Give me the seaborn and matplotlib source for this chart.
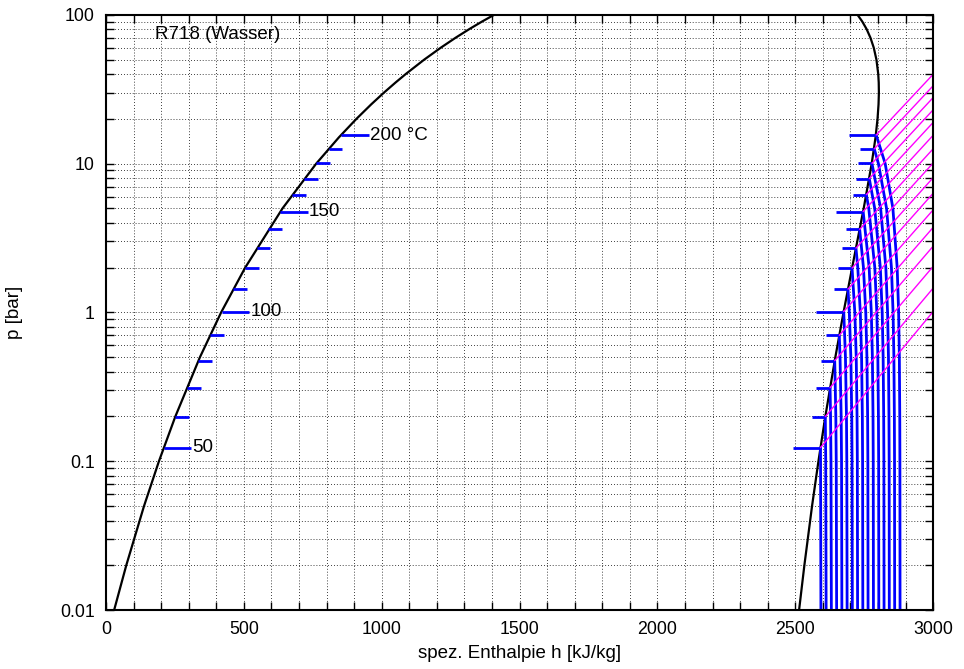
import numpy as np
import pandas as pd
import seaborn as sns
import matplotlib.pyplot as plt
from matplotlib.ticker import MultipleLocator, LogLocator, FuncFormatter

sns.set_style("ticks")
plt.rcParams['font.family'] = ['Liberation Sans', 'DejaVu Sans']
plt.rcParams.update({"text.color": "black", "axes.labelcolor": "black",
                     "xtick.color": "black", "ytick.color": "black"})

# saturation envelope of water: pressure [bar], enthalpy of liquid / vapour [kJ/kg]
env_p = [0.01, 0.02, 0.05, 0.1, 0.2, 0.5, 1, 2, 5, 10, 15, 20, 25, 30, 35, 40,
         50, 60, 70, 80, 90, 100]
env_h_liq = [29.3, 73.4, 137.7, 191.8, 251.4, 340.5, 417.4, 504.7, 640.1, 762.5,
             844.6, 908.5, 961.9, 1008.3, 1049.8, 1087.4, 1154.5, 1213.9, 1267.7,
             1317.3, 1363.9, 1408.1]
env_h_vap = [2513.7, 2532.9, 2560.7, 2583.9, 2608.9, 2645.2, 2674.9, 2706.2, 2748.1,
             2777.1, 2791.0, 2798.3, 2801.9, 2803.2, 2802.6, 2800.8, 2794.2, 2784.6,
             2772.6, 2758.7, 2742.9, 2725.5]

# marked isotherms 50 ... 200 °C
iso_t = [50, 60, 70, 80, 90, 100, 110, 120, 130, 140, 150, 160, 170, 180, 190, 200]
iso_p = [0.1235, 0.1995, 0.3120, 0.4742, 0.7018, 1.0142, 1.4338, 1.9867, 2.7028,
         3.6154, 4.7616, 6.1823, 7.9219, 10.028, 12.552, 15.549]
iso_h_liq = [209.3, 251.2, 293.0, 335.0, 377.0, 419.2, 461.4, 503.8, 546.4, 589.2,
             632.2, 675.5, 719.1, 763.1, 807.4, 852.3]
iso_h_vap = [2591.3, 2608.8, 2626.1, 2643.0, 2659.6, 2675.6, 2691.1, 2705.9, 2720.1,
             2733.5, 2746.1, 2757.7, 2768.4, 2778.0, 2786.4, 2793.5]

# superheated isotherms, enthalpy at these pressures (nan = above p_sat)
nan = np.nan
grid_p = [10, 5, 2, 1, 0.5, 0.2, 0.1, 0.01]
iso_h_super = [
    [nan, nan, nan, nan, nan, nan, 2591.6, 2592.9],
    [nan, nan, nan, nan, nan, nan, 2610.4, 2611.8],
    [nan, nan, nan, nan, nan, 2627.9, 2629.4, 2630.8],
    [nan, nan, nan, nan, nan, 2647.0, 2648.5, 2649.9],
    [nan, nan, nan, nan, 2662.3, 2666.3, 2667.7, 2668.9],
    [nan, nan, nan, 2675.8, 2681.9, 2685.6, 2686.8, 2687.9],
    [nan, nan, nan, 2695.9, 2701.5, 2704.8, 2705.9, 2706.9],
    [nan, nan, nan, 2715.9, 2721.0, 2724.0, 2725.0, 2725.9],
    [nan, nan, 2726.6, 2735.8, 2740.4, 2743.2, 2744.1, 2744.9],
    [nan, nan, 2747.2, 2755.6, 2759.8, 2762.3, 2763.2, 2763.9],
    [nan, nan, 2767.8, 2775.7, 2779.6, 2781.9, 2782.7, 2783.4],
    [nan, 2766.5, 2788.4, 2795.7, 2799.4, 2801.5, 2802.3, 2802.9],
    [nan, 2788.0, 2808.4, 2815.2, 2818.6, 2820.6, 2821.3, 2821.9],
    [nan, 2809.5, 2828.4, 2834.7, 2837.9, 2839.7, 2840.4, 2840.9],
    [2801.5, 2831.0, 2848.7, 2854.6, 2857.6, 2859.3, 2859.9, 2860.4],
    [2826.0, 2854.0, 2869.5, 2874.8, 2877.4, 2878.9, 2879.4, 2879.9],
]

# isentropes from saturated vapour up to h = 3000 kJ/kg
isen_h_end = 3000
isen_p_end = [1.014, 1.457, 2.038, 2.785, 3.725, 4.886, 6.317, 8.039, 10.09, 12.57,
              15.49, 18.90, 22.97, 27.76, 33.32, 39.79]

# long tables for seaborn
rows = []
for i, t in enumerate(iso_t):
    rows.append((t, iso_h_vap[i], iso_p[i]))
    for p, h in zip(grid_p, iso_h_super[i]):
        if not np.isnan(h):
            rows.append((t, h, p))
isotherms = pd.DataFrame(rows, columns=["T", "h", "p"])

rows = []
for i, t in enumerate(iso_t):
    rows.append((t, iso_h_vap[i], iso_p[i]))
    rows.append((t, isen_h_end, isen_p_end[i]))
isentropes = pd.DataFrame(rows, columns=["T", "h", "p"])

fig, ax = plt.subplots(figsize=(9.64, 6.69), dpi=100)
fig.subplots_adjust(left=0.110, right=0.968, bottom=0.088, top=0.978)

# saturation curve
sns.lineplot(x=env_h_liq, y=env_p, sort=False, estimator=None,
             color="black", lw=1.6, ax=ax)
sns.lineplot(x=env_h_vap, y=env_p, sort=False, estimator=None,
             color="black", lw=1.6, ax=ax)

# isotherms in superheated region
sns.lineplot(data=isotherms, x="h", y="p", units="T", estimator=None, sort=False,
             color="blue", lw=2, ax=ax)

# short isotherm marks on both sides
tick_len = [100 if t % 50 == 0 else 50 for t in iso_t]
ax.hlines(iso_p, iso_h_liq, np.array(iso_h_liq) + tick_len, color="blue", lw=2)
ax.hlines(iso_p, np.array(iso_h_vap) - tick_len, iso_h_vap, color="blue", lw=2)

for t, p, h, L in zip(iso_t, iso_p, iso_h_liq, tick_len):
    if L == 100:
        lab = f"{t} °C" if t == 200 else f"{t}"
        ax.text(h + L + 4, p, lab, va="center", ha="left", fontsize=13.5)

# isentropes
sns.lineplot(data=isentropes, x="h", y="p", units="T", estimator=None, sort=False,
             color="magenta", lw=1.0, ax=ax)

ax.set_yscale("log")
ax.set_xlim(0, 3000)
ax.set_ylim(0.01, 100)
ax.xaxis.set_major_locator(MultipleLocator(500))
ax.xaxis.set_minor_locator(MultipleLocator(100))
ax.yaxis.set_major_locator(LogLocator(base=10))
ax.yaxis.set_minor_locator(LogLocator(base=10, subs=np.arange(2, 10)))
ax.yaxis.set_major_formatter(FuncFormatter(lambda v, pos: f"{v:g}"))
ax.yaxis.set_minor_formatter(FuncFormatter(lambda v, pos: ""))

ax.grid(True, which="both", color="black", lw=0.6, ls=(0, (1, 2.5)))
ax.tick_params(which="both", direction="in", top=True, right=True,
               length=6, width=1, labelsize=12.8, pad=8)
for s in ax.spines.values():
    s.set_linewidth(1.5)
    s.set_color("black")

ax.text(0.059, 0.966, "R718 (Wasser)", transform=ax.transAxes,
        va="center", ha="left", fontsize=13.5)
ax.set_xlabel("spez. Enthalpie h [kJ/kg]", fontsize=13.5)
ax.set_ylabel("p [bar]", fontsize=13.5)
ax.xaxis.set_label_coords(0.5, -0.059)
ax.yaxis.set_label_coords(-0.100, 0.5)

fig.savefig("out.png", dpi=100)
